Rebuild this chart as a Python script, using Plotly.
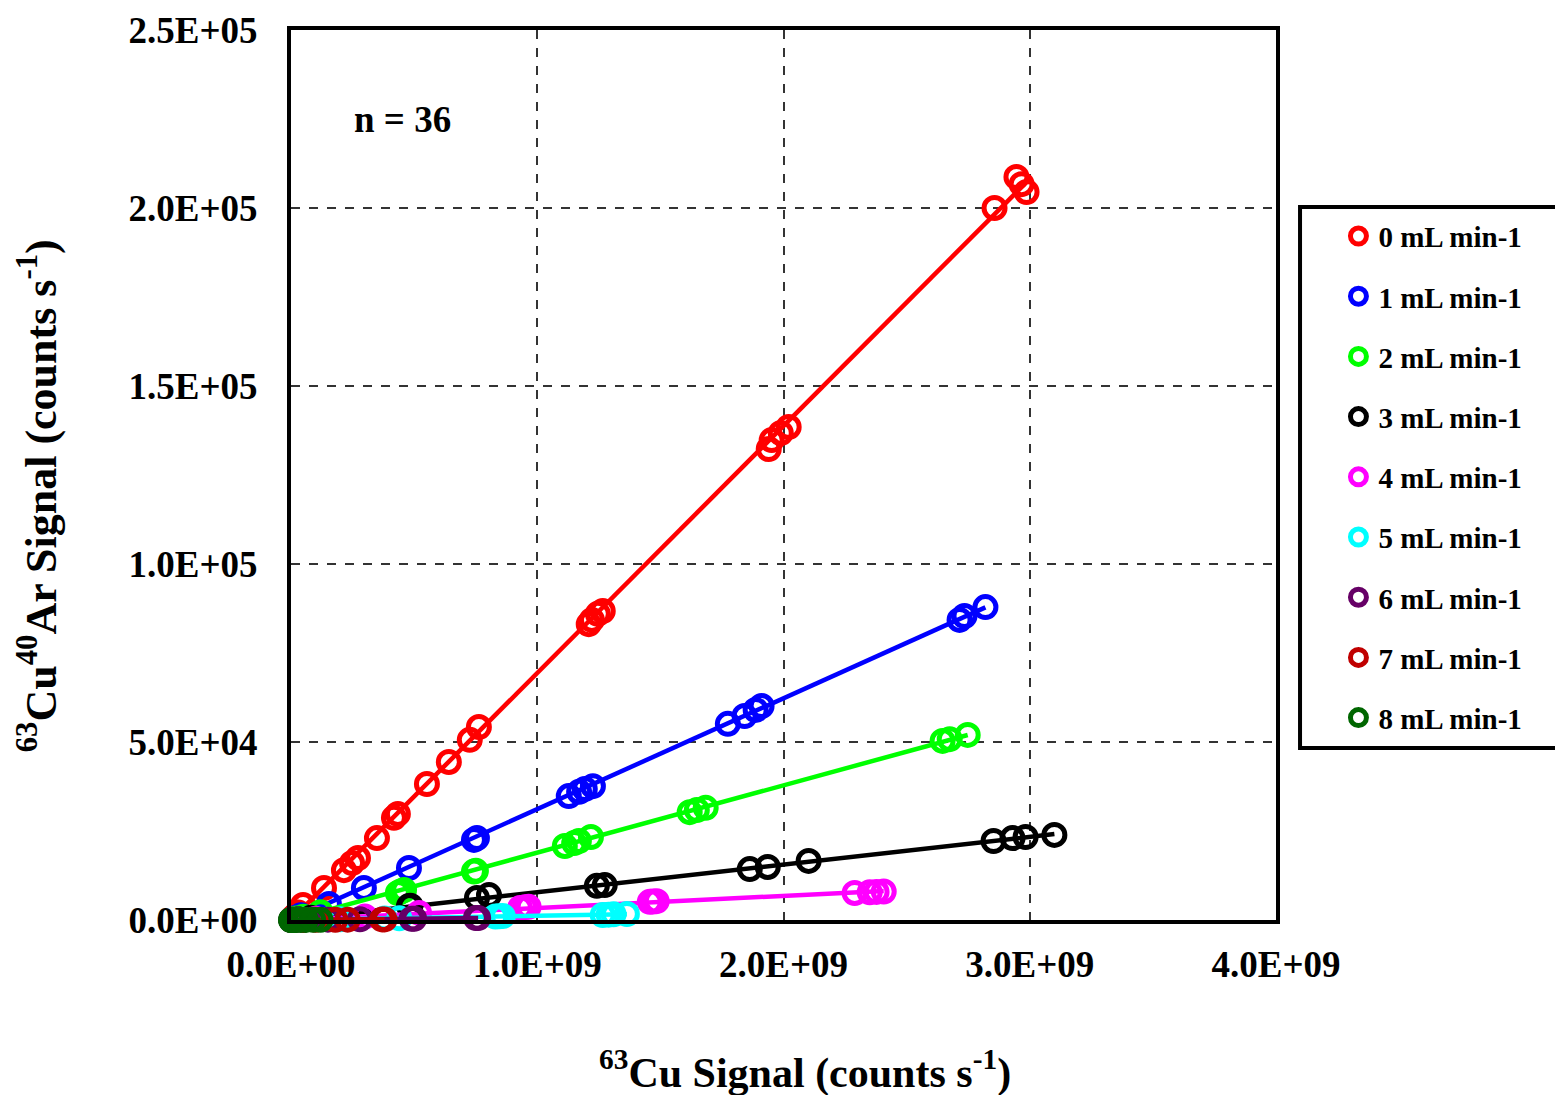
import numpy as np
import plotly.graph_objects as go

series_names = ["0 mL min-1", "1 mL min-1", "2 mL min-1", "3 mL min-1", "4 mL min-1",
                "5 mL min-1", "6 mL min-1", "7 mL min-1", "8 mL min-1"]
colors = ["#FF0000", "#0000FF", "#00FF00", "#000000", "#FF00FF",
          "#00FFFF", "#660066", "#C00000", "#006600"]

# x in 1e9 counts/s, y in 1e3 counts/s
x0 = [0.002, 0.004, 0.008, 0.012, 0.02, 0.03, 0.049, 0.134, 0.215, 0.248, 0.272, 0.349, 0.418, 0.434,
      0.552, 0.641, 0.726, 0.763, 1.209, 1.222, 1.246, 1.266, 1.940, 1.952, 1.989, 2.021,
      2.857, 2.946, 2.967, 2.987]
y0 = [0.14, 0.28, 0.56, 0.85, 1.4, 2.1, 4.2, 9.0, 14.0, 16.0, 17.4, 23.0, 28.7, 29.8,
      38.2, 44.4, 50.6, 54.2, 83.1, 84.3, 86.0, 86.8, 132.3, 134.8, 136.8, 138.5,
      200.0, 208.7, 206.7, 204.5]
x1 = [0.002, 0.005, 0.01, 0.02, 0.04, 0.154, 0.296, 0.479, 0.743, 0.755, 1.128, 1.17, 1.193, 1.226,
      1.774, 1.842, 1.887, 1.911, 2.715, 2.735, 2.82]
y1 = [0.06, 0.15, 0.3, 0.6, 1.3, 4.5, 9.0, 14.6, 22.5, 23.0, 34.8, 36.0, 36.8, 37.6,
      55.1, 57.3, 59.0, 60.1, 84.3, 85.4, 87.9]
x2 = [0.002, 0.005, 0.01, 0.02, 0.05, 0.12, 0.434, 0.445, 0.459, 0.743, 0.751, 1.112, 1.15, 1.169,
      1.218, 1.619, 1.648, 1.684, 2.646, 2.675, 2.748]
y2 = [0.04, 0.1, 0.2, 0.4, 0.9, 2.2, 7.6, 8.0, 8.4, 13.6, 13.8, 20.8, 21.6, 22.2,
      23.3, 30.3, 30.9, 31.5, 50.3, 50.8, 52.0]
x3 = [0.002, 0.005, 0.01, 0.03, 0.08, 0.479, 0.485, 0.755, 0.804, 1.242, 1.274, 1.863, 1.936, 2.102,
      2.853, 2.93, 2.983, 3.10]
y3 = [0.02, 0.04, 0.08, 0.24, 0.6, 3.9, 4.0, 6.2, 7.0, 9.6, 9.8, 14.3, 14.9, 16.6,
      22.2, 23.0, 23.3, 23.9]
x4 = [0.002, 0.01, 0.03, 0.1, 0.30, 0.52, 0.93, 0.95, 0.965, 1.457, 1.47, 1.485, 2.289, 2.35, 2.378, 2.407]
y4 = [0.01, 0.04, 0.1, 0.35, 1.0, 2.0, 3.4, 3.6, 3.7, 5.1, 5.2, 5.3, 7.6, 7.8, 7.9, 8.0]
x5 = [0.002, 0.01, 0.05, 0.2, 0.38, 0.44, 0.83, 0.845, 0.86, 1.266, 1.29, 1.31, 1.364]
y5 = [0.003, 0.01, 0.05, 0.2, 0.4, 0.5, 1.0, 1.05, 1.1, 1.4, 1.5, 1.6, 1.7]
x6 = [0.002, 0.01, 0.05, 0.15, 0.28, 0.49, 0.50, 0.751, 0.76]
y6 = [0.0, 0.01, 0.03, 0.1, 0.2, 0.35, 0.36, 0.55, 0.56]
x7 = [0.002, 0.01, 0.05, 0.1, 0.18, 0.23, 0.37, 0.38]
y7 = [0.0, 0.005, 0.02, 0.04, 0.08, 0.1, 0.16, 0.17]
x8 = [0.0, 0.002, 0.005, 0.01, 0.02, 0.04, 0.06, 0.09, 0.12]
y8 = [0.0, 0.0, 0.0, 0.01, 0.01, 0.02, 0.03, 0.04, 0.05]

xs = [x0, x1, x2, x3, x4, x5, x6, x7, x8]
ys = [y0, y1, y2, y3, y4, y5, y6, y7, y8]

x_ticks = [0, 1e9, 2e9, 3e9, 4e9]
x_ticktext = ["0.0E+00", "1.0E+09", "2.0E+09", "3.0E+09", "4.0E+09"]
y_ticks = [0, 5e4, 1e5, 1.5e5, 2e5, 2.5e5]
y_ticktext = ["0.0E+00", "5.0E+04", "1.0E+05", "1.5E+05", "2.0E+05", "2.5E+05"]

FONT = "Liberation Serif"
fig = go.Figure()

for i, (xv, yv) in enumerate(zip(xs, ys)):
    xa = np.array(xv) * 1e9
    ya = np.array(yv) * 1e3
    a, b = np.polyfit(xa, ya, 1)
    xl = np.array([0.0, xa.max()])
    fig.add_trace(go.Scatter(x=xa, y=ya, mode="markers", name=series_names[i],
                             legendgroup=f"g{i}", cliponaxis=False,
                             marker=dict(symbol="circle", size=21, color="rgba(0,0,0,0)",
                                         line=dict(width=5, color=colors[i]))))
    fig.add_trace(go.Scatter(x=xl, y=a * xl + b * (xl > 0), mode="lines", showlegend=False,
                             legendgroup=f"g{i}", cliponaxis=False,
                             line=dict(color=colors[i], width=4.5)))

fig.update_layout(
    width=1555, height=1087,
    margin=dict(l=283, r=287, t=22, b=175, autoexpand=False),
    paper_bgcolor="white", plot_bgcolor="white",
    font=dict(family=FONT, size=37, color="black", weight="bold"),
    showlegend=True,
    legend=dict(x=1.0634, xanchor="left", y=0.797, yanchor="top",
                font=dict(family=FONT, size=29, color="black", weight="bold"),
                bgcolor="rgba(0,0,0,0)", borderwidth=0, tracegroupgap=19.5),
    xaxis=dict(range=[0, 4e9], tickvals=x_ticks, ticktext=x_ticktext, automargin=False,
               showgrid=True, gridcolor="#333333", griddash="dash", gridwidth=1.5,
               showline=True, mirror=True, linecolor="black", linewidth=4,
               ticks="", ticklabelstandoff=9, zeroline=False,
               tickfont=dict(family=FONT, size=37, weight="bold")),
    yaxis=dict(range=[0, 2.5e5], tickvals=y_ticks, ticktext=y_ticktext, automargin=False,
               showgrid=True, gridcolor="#333333", griddash="dash", gridwidth=1.5,
               showline=True, mirror=True, linecolor="black", linewidth=4,
               ticks="", ticklabelstandoff=22, zeroline=False,
               tickfont=dict(family=FONT, size=37, weight="bold")),
    shapes=[dict(type="rect", xref="paper", yref="paper",
                 x0=1.0244, x1=1.4, y0=(920 - 748) / 890, y1=(920 - 207) / 890,
                 line=dict(color="black", width=4), fillcolor="rgba(0,0,0,0)")],
    annotations=[
        dict(text="n = 36", x=0.1137, y=0.899, xref="paper", yref="paper",
             xanchor="center", yanchor="middle",
             showarrow=False, font=dict(family=FONT, size=37, weight="bold")),
        dict(text="<sup>63</sup>Cu Signal (counts s<sup>-1</sup>)", x=0.522, y=-0.168,
             xanchor="center", yanchor="middle",
             xref="paper", yref="paper", showarrow=False,
             font=dict(family=FONT, size=42, weight="bold")),
        dict(text="<sup>63</sup>Cu<sup>40</sup>Ar Signal (counts s<sup>-1</sup>)", x=-0.257, y=0.477,
             xanchor="center", yanchor="middle",
             xref="paper", yref="paper", showarrow=False, textangle=-90,
             font=dict(family=FONT, size=44, weight="bold")),
    ],
)

fig.write_html("out.html")
